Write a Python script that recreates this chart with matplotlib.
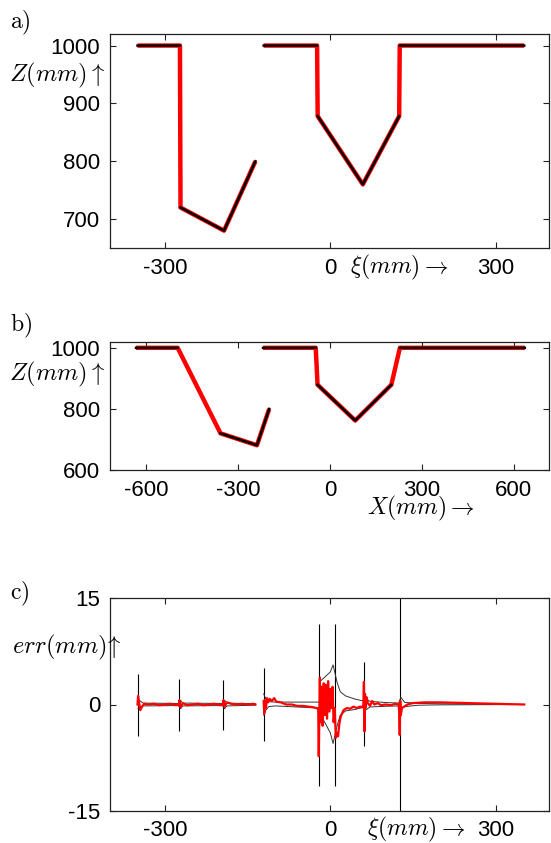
import matplotlib
matplotlib.use("Agg")
import matplotlib.pyplot as plt
import numpy as np

plt.rcParams["font.family"] = ["Liberation Sans", "DejaVu Sans"]
plt.rcParams["mathtext.fontset"] = "cm"
plt.rcParams["axes.unicode_minus"] = False

# a) profil en xi
a_red1_x = [-350, -273, -272, -193, -136]
a_red1_z = [1000, 1000, 720, 680, 800]
a_red2_x = [-121, -24, -23, 59, 125, 126, 352]
a_red2_z = [1000, 1000, 878, 760, 878, 1000, 1000]
a_blk_x = [-350, -273, np.nan, -272, -193, -136, np.nan, -121, -24, np.nan, -23, 59, 125, np.nan, 126, 352]
a_blk_z = [1000, 1000, np.nan, 720, 680, 800, np.nan, 1000, 1000, np.nan, 878, 760, 878, np.nan, 1000, 1000]

# b) profil en X
b_red1_x = [-634, -498, -358, -239, -199]
b_red1_z = [1000, 1000, 720, 681, 800]
b_red2_x = [-219, -47, -41, 82, 200, 228, 636]
b_red2_z = [1000, 1000, 879, 762, 879, 1000, 1000]
b_blk_x = [-634, -498, np.nan, -358, -239, -199, np.nan, -219, -47, np.nan, -41, 82, 200, np.nan, 228, 636]
b_blk_z = [1000, 1000, np.nan, 720, 681, 800, np.nan, 1000, 1000, np.nan, 879, 762, 879, np.nan, 1000, 1000]

# c) erreur
spike_x = [-349, -274, -194, -120, -20, 8.5, 62, 126]
spike_top = [4.3, 3.6, 3.5, 5.1, 11.4, 11.4, 6.0, 16]
spike_bot = [-4.4, -3.7, -3.6, -5.2, -11.5, -11.5, -5.9, -16]

env1_x = [-349, -345, -340, -276, -272, -268, -196, -192, -188, -136]
env1_hi = [0.6, 0.5, 0.2, 0.15, 0.6, 0.2, 0.15, 0.6, 0.2, 0.1]
env1_lo = [-0.6, -0.5, -0.2, -0.15, -0.6, -0.2, -0.15, -0.6, -0.2, -0.1]

env2_x = [-121, -117, -112, -100, -20, -18, 0, 5, 12, 18, 28, 45, 60, 64, 72, 100, 124, 128, 135, 160, 200, 352]
env2_hi = [1.5, 0.8, 0.4, 0.34, 0.34, 3.3, 4.6, 5.6, 3.2, 1.8, 1.2, 0.76, 0.5, 0.8, 0.45, 0.28, 0.2, 1.0, 0.3, 0.15, 0.1, 0.0]
env2_lo = [-1.5, -0.8, -0.3, -0.2, -0.5, -1.4, -4.0, -5.5, -3.1, -1.5, -0.9, -0.7, -0.4, -0.8, -0.35, -0.25, -0.2, -0.6, -0.3, -0.1, -0.05, 0.0]

err1_x = [-350, -349, -347, -345, -342, -338, -330, -320, -310, -300, -290, -280, -275,
          -274, -272, -268, -260, -250, -240, -230, -220, -210, -200, -195,
          -194, -192, -188, -180, -170, -160, -150, -140, -136]
err1_y = [0.0, 1.2, 0.2, -0.8, -0.3, 0.1, 0.0, 0.1, -0.1, 0.0, 0.1, -0.1, 0.0,
          0.6, -0.4, 0.2, -0.1, 0.0, 0.1, -0.1, 0.0, 0.1, -0.1, 0.0,
          0.6, -0.3, 0.3, 0.1, 0.0, 0.1, 0.0, 0.1, 0.0]

err2_x = [-121, -120, -119, -117, -115, -113, -110, -106, -102, -98, -90, -80, -70, -60,
          -50, -40, -30, -22, -21, -20, -19, -18, -16, -14, -12, -10, -8, -6, -4, -2,
          0, 2, 4, 6, 8, 10, 12, 14, 16, 18, 20, 24, 30, 36, 42, 48, 54, 58,
          60, 61, 62, 63, 64, 66, 68, 72, 76, 80, 86, 92, 100, 110, 118, 124,
          125, 126, 127, 128, 130, 134, 140, 150, 170, 200, 250, 300, 352]
err2_y = [0.5, -1.3, 0.6, -0.5, 0.9, 0.3, 0.8, 0.5, 0.9, 0.4, 0.3, 0.0, 0.0, -0.2,
          -0.2, -0.3, -0.4, -0.6, -7.3, -1.5, 3.8, -2.5, 2.5, -3.0, 3.0, -1.5, 2.8, -2.0, 3.3, -1.0,
          2.2, -0.5, 2.5, -2.5, -0.5, -4.7, -4.0, -4.5, -3.0, -2.0, -1.5, -0.8, -0.5, -0.6, -0.3, -0.5, -0.3, -0.4,
          0.0, 3.2, -3.8, 1.5, -0.5, 1.0, 0.2, -0.2, 0.5, 0.0, 0.2, -0.1, 0.0, -0.1, 0.1, 0.0,
          -1.0, -4.3, 0.5, -1.5, -0.5, -0.3, 0.0, 0.2, 0.3, 0.3, 0.2, 0.1, 0.0]

fig = plt.figure(figsize=(5.51, 8.43), dpi=100)
ax_a = fig.add_axes([110 / 551, 1 - 248 / 843, 439 / 551, 214 / 843])
ax_b = fig.add_axes([110 / 551, 1 - 470 / 843, 439 / 551, 128.3 / 843])
ax_c = fig.add_axes([110 / 551, 1 - 810.7 / 843, 439 / 551, 212.4 / 843])


def style(ax):
    for s in ax.spines.values():
        s.set_color("#222222")
        s.set_linewidth(0.9)
    ax.tick_params(direction="in", top=True, right=True, length=4, width=0.8,
                   labelsize=16, pad=7, color="#222222")


# a)
ax_a.plot(a_red1_x, a_red1_z, color="red", lw=3.2, solid_capstyle="butt")
ax_a.plot(a_red2_x, a_red2_z, color="red", lw=3.2, solid_capstyle="butt")
ax_a.plot(a_blk_x, a_blk_z, color="black", lw=1.8)
ax_a.set_xlim(-400, 397)
ax_a.set_ylim(650, 1020)
ax_a.set_xticks([-300, 0, 300])
ax_a.set_yticks([700, 800, 900, 1000])
style(ax_a)

# b)
ax_b.plot(b_red1_x, b_red1_z, color="red", lw=3.2, solid_capstyle="butt")
ax_b.plot(b_red2_x, b_red2_z, color="red", lw=3.2, solid_capstyle="butt")
ax_b.plot(b_blk_x, b_blk_z, color="black", lw=1.8)
ax_b.set_xlim(-719, 715)
ax_b.set_ylim(600, 1020)
ax_b.set_xticks([-600, -300, 0, 300, 600])
ax_b.set_yticks([600, 800, 1000])
style(ax_b)

# c)
ax_c.vlines(spike_x, spike_bot, spike_top, color="black", lw=0.8)
ax_c.plot(env1_x, env1_hi, color="#333333", lw=0.7)
ax_c.plot(env1_x, env1_lo, color="#333333", lw=0.7)
ax_c.plot(env2_x, env2_hi, color="#333333", lw=0.7)
ax_c.plot(env2_x, env2_lo, color="#333333", lw=0.7)
ax_c.plot(err1_x, err1_y, color="red", lw=1.6)
ax_c.plot(err2_x, err2_y, color="red", lw=1.6)
ax_c.set_xlim(-400, 397)
ax_c.set_ylim(-15, 15)
ax_c.set_xticks([-300, 0, 300])
ax_c.set_yticks([-15, 0, 15])
style(ax_c)

# textes
fig.text(10 / 551, 1 - 23 / 843, r"$\mathrm{a)}$", fontsize=17, va="center")
fig.text(10 / 551, 1 - 326 / 843, r"$\mathrm{b)}$", fontsize=17, va="center")
fig.text(10 / 551, 1 - 594 / 843, r"$\mathrm{c)}$", fontsize=17, va="center")
fig.text(105 / 551, 1 - 75 / 843, r"$Z(mm)\uparrow$", fontsize=17.5, ha="right", va="center")
fig.text(105 / 551, 1 - 374 / 843, r"$Z(mm)\uparrow$", fontsize=17.5, ha="right", va="center")
fig.text(12 / 551, 1 - 647 / 843, r"$err(mm)\!\uparrow$", fontsize=17.5, ha="left", va="center")
fig.text(350 / 551, 1 - 267 / 843, r"$\xi(mm)\rightarrow$", fontsize=17, ha="left", va="center")
fig.text(367 / 551, 1 - 508 / 843, r"$X(mm)\rightarrow$", fontsize=17, ha="left", va="center")
fig.text(367 / 551, 1 - 829 / 843, r"$\xi(mm)\rightarrow$", fontsize=17, ha="left", va="center")

fig.savefig("out.png", dpi=100)
